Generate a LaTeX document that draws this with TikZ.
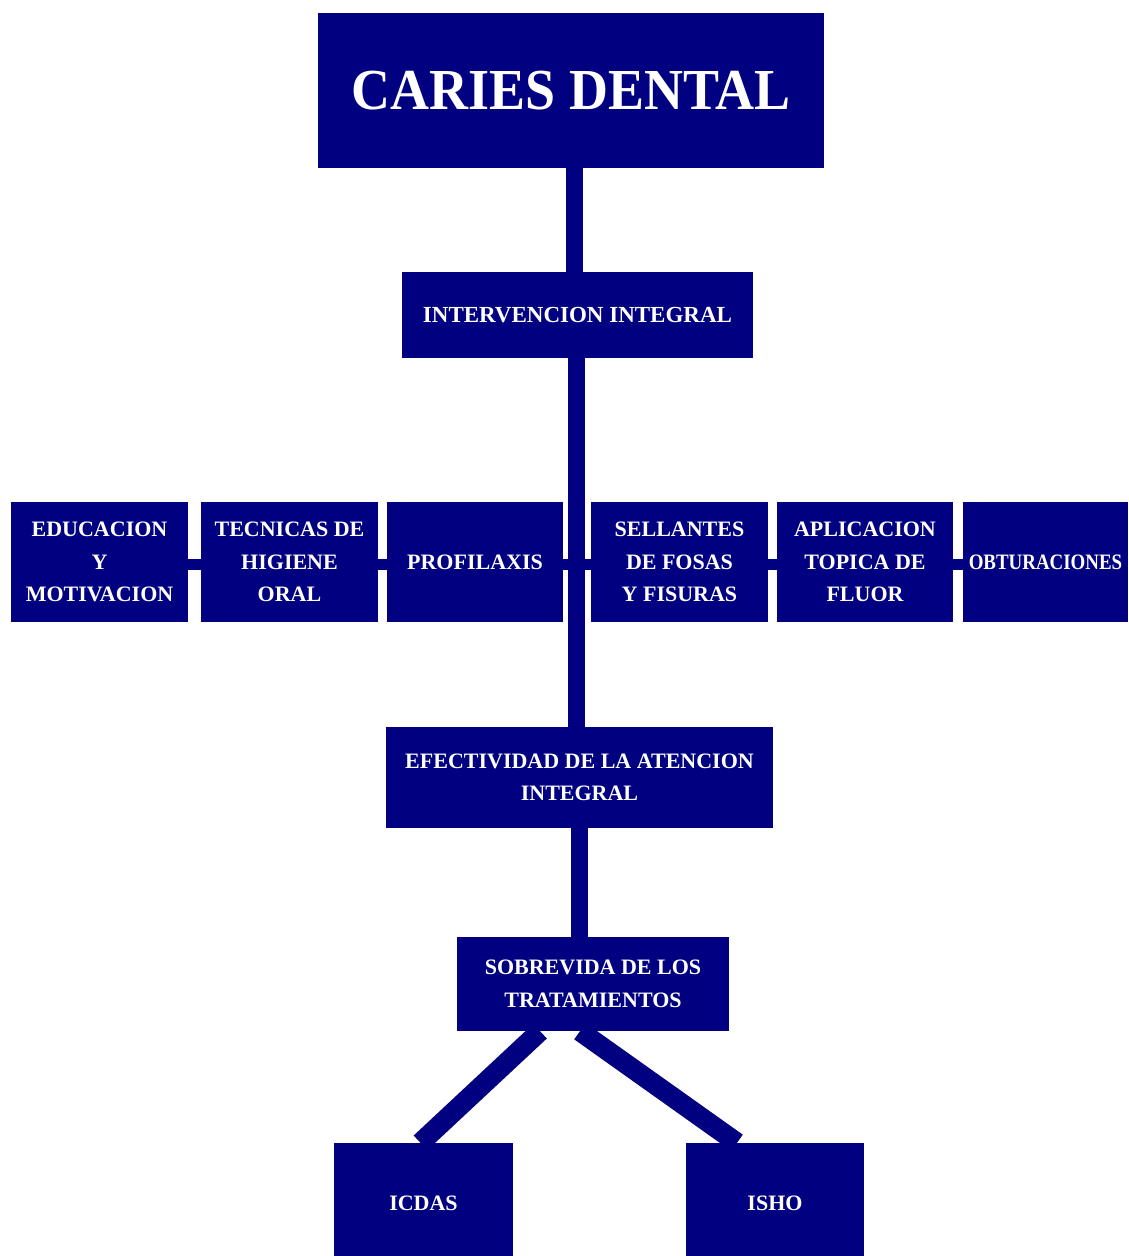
\documentclass[tikz,border=0pt]{standalone}
\usepackage{fontspec}
\setmainfont{Liberation Serif}
\newfontfamily\titlefont[FakeStretch=0.93]{Liberation Serif}
\newfontfamily\narrowfont[FakeStretch=0.86]{Liberation Serif}
\definecolor{navybox}{RGB}{0,0,128}
\begin{document}
\begin{tikzpicture}[x=1pt,y=-1pt,
  box/.style={fill=navybox, draw=none, inner sep=0pt, align=center, text=white,
    font=\bfseries\fontsize{22}{32.5}\selectfont},
  rowbox/.style={box, minimum width=177pt, minimum height=120pt},
  vline/.style={draw=navybox, line width=17pt},
  diag/.style={draw=navybox, line width=20pt},
  stub/.style={draw=navybox, line width=11pt}]
\clip (0,0) rectangle (1128,1256);
\fill[white] (0,0) rectangle (1128,1256);
% nodes
\node[box, minimum width=506pt, minimum height=155pt,
      font=\titlefont\bfseries\fontsize{58}{60}\selectfont] (caries) at (571,90.5) {CARIES DENTAL};
\node[box, minimum width=351pt, minimum height=86pt,
      font=\bfseries\fontsize{23}{30}\selectfont] (int) at (577.5,315) {INTERVENCION INTEGRAL};
\node[rowbox] (edu)  at (99.5,562)  {EDUCACION\\Y\\MOTIVACION};
\node[rowbox] (tec)  at (289.5,562) {TECNICAS DE\\HIGIENE\\ORAL};
\node[rowbox, minimum width=176pt] (prof) at (475,562) {PROFILAXIS};
\node[rowbox] (sell) at (679.5,562) {SELLANTES\\DE FOSAS\\Y FISURAS};
\node[rowbox, minimum width=176pt] (apl)  at (865,562) {APLICACION\\TOPICA DE\\FLUOR};
\node[rowbox, minimum width=165pt, font=\narrowfont\bfseries\fontsize{22}{32.5}\selectfont] (obt) at (1045.5,562) {OBTURACIONES};
\node[box, minimum width=387pt, minimum height=101pt] (efe) at (579.5,777.5) {EFECTIVIDAD DE LA ATENCION\\INTEGRAL};
\node[box, minimum width=272pt, minimum height=94pt] (sob) at (593,984) {SOBREVIDA DE LOS\\TRATAMIENTOS};
\node[box, minimum width=179pt, minimum height=120pt] (icdas) at (423.5,1203) {ICDAS};
\node[box, minimum width=178pt, minimum height=120pt] (isho) at (775,1203) {ISHO};
% connectors
\draw[vline] ([xshift=3pt]caries.south) -- ([xshift=3pt]caries.south |- int.north);
\draw[vline] ([xshift=-1pt]int.south) -- ([xshift=-1pt]int.south |- efe.north);
\draw[vline] (efe.south) -- (efe.south |- sob.north);
\draw[stub] ([yshift=-2pt]edu.east) -- ([yshift=-2pt]tec.west);
\draw[stub] ([yshift=-2pt]tec.east) -- ([yshift=-2pt]prof.west);
\draw[stub] ([yshift=-2pt]prof.east) -- ([yshift=-2pt]sell.west);
\draw[stub] ([yshift=-2pt]sell.east) -- ([yshift=-2pt]apl.west);
\draw[stub] ([yshift=-2pt]apl.east) -- ([yshift=-2pt]obt.west);
\draw[diag] ([xshift=-53pt]sob.south) -- ([xshift=-3pt]icdas.north);
\draw[diag] ([xshift=-13pt]sob.south) -- ([xshift=-38pt]isho.north);
\end{tikzpicture}
\end{document}
